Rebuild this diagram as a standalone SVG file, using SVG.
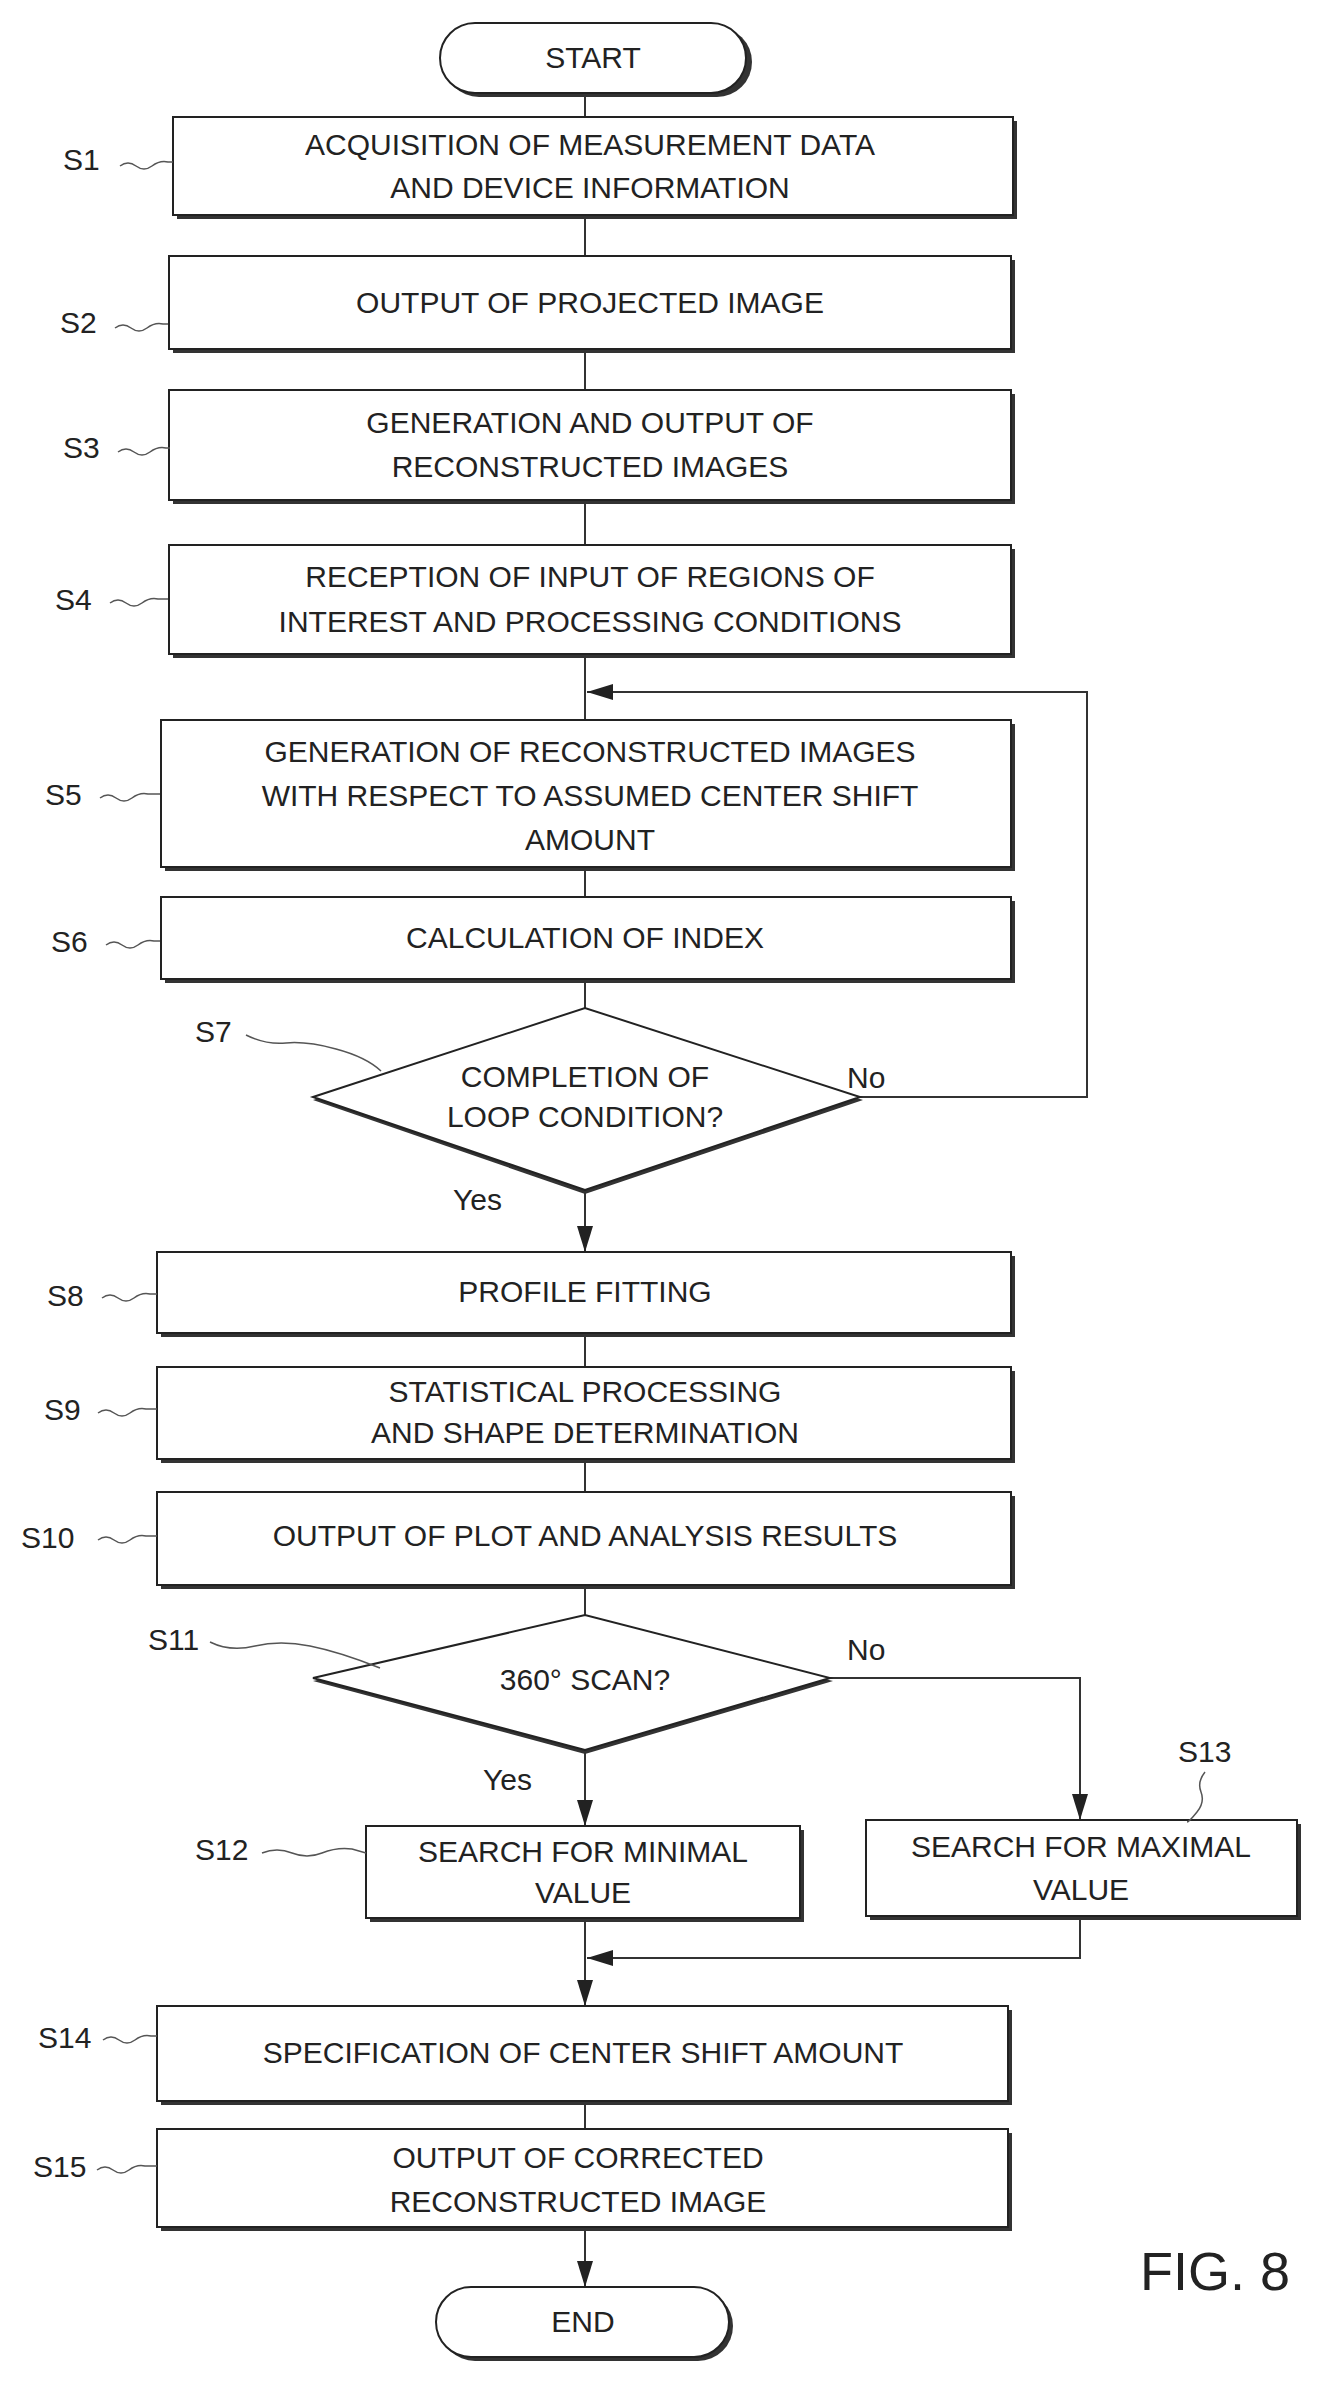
<svg xmlns="http://www.w3.org/2000/svg" width="1320" height="2382" viewBox="0 0 1320 2382">
<style>
.b{fill:#fff;stroke:#222;stroke-width:2}
.sh{fill:#333}
.t{font-family:"Liberation Sans",Arial,sans-serif;font-size:30px;fill:#222;text-anchor:middle}
.l{font-family:"Liberation Sans",Arial,sans-serif;font-size:30px;fill:#222;text-anchor:start}
.c{fill:none;stroke:#333;stroke-width:2}
.q{fill:none;stroke:#555;stroke-width:1.5}
</style>
<defs>
<marker id="a" markerWidth="26" markerHeight="16" refX="26" refY="8" orient="auto" markerUnits="userSpaceOnUse" viewBox="0 0 26 16">
<path d="M0,0 L26,8 L0,16 Z" fill="#222"/>
</marker>
</defs>
<g id="connectors">
<path class="c" d="M585,95 V117 M585,215 V256 M585,349 V390 M585,500 V545 M585,654 V720 M585,867 V897 M585,979 V1008"/>
<path class="c" d="M860,1097 H1087 V692 H587" marker-end="url(#a)"/>
<path class="c" d="M585,1190 V1252" marker-end="url(#a)"/>
<path class="c" d="M585,1333 V1367 M585,1459 V1492 M585,1585 V1615"/>
<path class="c" d="M585,1750 V1826" marker-end="url(#a)"/>
<path class="c" d="M830,1678 H1080 V1820" marker-end="url(#a)"/>
<path class="c" d="M585,1918 V2006" marker-end="url(#a)"/>
<path class="c" d="M1080,1916 V1958 H587" marker-end="url(#a)"/>
<path class="c" d="M585,2101 V2129"/>
<path class="c" d="M585,2227 V2287" marker-end="url(#a)"/>
</g>
<g id="start"><rect class="sh" x="444" y="27" width="308" height="70" rx="35"/><rect class="b" x="440" y="23" width="306" height="70" rx="35"/><text class="t" x="593" y="68">START</text></g>
<g id="s1"><rect class="sh" x="177" y="121" width="840" height="98"/><rect class="b" x="173" y="117" width="840" height="98"/><text class="t" x="590" y="155">ACQUISITION OF MEASUREMENT  DATA</text><text class="t" x="590" y="198">AND DEVICE INFORMATION</text><text class="l" x="63" y="170">S1</text><path class="q" d="M120,166 q8,-6 16,0 t16,0 t16,-4 l5,0"/></g>
<g id="s2"><rect class="sh" x="173" y="260" width="842" height="93"/><rect class="b" x="169" y="256" width="842" height="93"/><text class="t" x="590" y="313">OUTPUT OF PROJECTED IMAGE</text><text class="l" x="60" y="333">S2</text><path class="q" d="M115,328 q8,-6 16,0 t16,0 t16,-4 l5,0"/></g>
<g id="s3"><rect class="sh" x="173" y="394" width="842" height="110"/><rect class="b" x="169" y="390" width="842" height="110"/><text class="t" x="590" y="433">GENERATION AND OUTPUT OF</text><text class="t" x="590" y="477">RECONSTRUCTED IMAGES</text><text class="l" x="63" y="458">S3</text><path class="q" d="M118,452 q8,-6 16,0 t16,0 t16,-4 l4,0"/></g>
<g id="s4"><rect class="sh" x="173" y="549" width="842" height="109"/><rect class="b" x="169" y="545" width="842" height="109"/><text class="t" x="590" y="587">RECEPTION OF INPUT OF REGIONS OF</text><text class="t" x="590" y="632">INTEREST AND PROCESSING CONDITIONS</text><text class="l" x="55" y="610">S4</text><path class="q" d="M110,603 q8,-6 16,0 t16,0 t16,-4 l10,0"/></g>
<g id="s5"><rect class="sh" x="165" y="724" width="850" height="147"/><rect class="b" x="161" y="720" width="850" height="147"/><text class="t" x="590" y="762">GENERATION OF RECONSTRUCTED IMAGES</text><text class="t" x="590" y="806">WITH RESPECT TO ASSUMED CENTER SHIFT</text><text class="t" x="590" y="850">AMOUNT</text><text class="l" x="45" y="805">S5</text><path class="q" d="M100,798 q8,-6 16,0 t16,0 t16,-4 l12,0"/></g>
<g id="s6"><rect class="sh" x="165" y="901" width="850" height="82"/><rect class="b" x="161" y="897" width="850" height="82"/><text class="t" x="585" y="948">CALCULATION OF INDEX</text><text class="l" x="51" y="952">S6</text><path class="q" d="M106,945 q8,-6 16,0 t16,0 t16,-4 l6,0"/></g>
<g id="s7"><path d="M313,1100 L585,1012 L863,1100 L585,1194 Z" fill="#333"/><path class="b" d="M313,1097 L585,1008 L860,1097 L585,1190 Z"/><text class="t" x="585" y="1087">COMPLETION OF</text><text class="t" x="585" y="1127">LOOP CONDITION?</text><text class="l" x="195" y="1042">S7</text><path class="q" d="M246,1035 q20,10 40,8 t50,6 t45,22"/><text class="l" x="847" y="1088">No</text><text class="l" x="453" y="1210">Yes</text></g>
<g id="s8"><rect class="sh" x="161" y="1256" width="854" height="81"/><rect class="b" x="157" y="1252" width="854" height="81"/><text class="t" x="585" y="1302">PROFILE FITTING</text><text class="l" x="47" y="1306">S8</text><path class="q" d="M102,1298 q8,-6 16,0 t16,0 t16,-4 l7,0"/></g>
<g id="s9"><rect class="sh" x="161" y="1371" width="854" height="92"/><rect class="b" x="157" y="1367" width="854" height="92"/><text class="t" x="585" y="1402">STATISTICAL PROCESSING</text><text class="t" x="585" y="1443">AND SHAPE DETERMINATION</text><text class="l" x="44" y="1420">S9</text><path class="q" d="M98,1413 q8,-6 16,0 t16,0 t16,-4 l11,0"/></g>
<g id="s10"><rect class="sh" x="161" y="1496" width="854" height="93"/><rect class="b" x="157" y="1492" width="854" height="93"/><text class="t" x="585" y="1546">OUTPUT OF PLOT AND ANALYSIS RESULTS</text><text class="l" x="21" y="1548">S10</text><path class="q" d="M98,1540 q8,-6 16,0 t16,0 t16,-4 l11,0"/></g>
<g id="s11"><path d="M313,1681 L585,1619 L833,1681 L585,1754 Z" fill="#333"/><path class="b" d="M313,1678 L585,1615 L830,1678 L585,1750 Z"/><text class="t" x="585" y="1690">360°  SCAN?</text><text class="l" x="148" y="1650">S11</text><path class="q" d="M210,1642 q20,10 45,4 t55,0 t70,22"/><text class="l" x="847" y="1660">No</text><text class="l" x="483" y="1790">Yes</text></g>
<g id="s12"><rect class="sh" x="370" y="1830" width="434" height="92"/><rect class="b" x="366" y="1826" width="434" height="92"/><text class="t" x="583" y="1862">SEARCH FOR MINIMAL</text><text class="t" x="583" y="1903">VALUE</text><text class="l" x="195" y="1860">S12</text><path class="q" d="M262,1853 q15,-6 30,0 t30,0 t30,-4 l14,4"/></g>
<g id="s13"><rect class="sh" x="870" y="1824" width="431" height="96"/><rect class="b" x="866" y="1820" width="431" height="96"/><text class="t" x="1081" y="1857">SEARCH FOR MAXIMAL</text><text class="t" x="1081" y="1900">VALUE</text><text class="l" x="1178" y="1762">S13</text><path class="q" d="M1205,1772 q-8,10 -4,20 t-4,20 t-10,10"/></g>
<g id="s14"><rect class="sh" x="161" y="2010" width="851" height="95"/><rect class="b" x="157" y="2006" width="851" height="95"/><text class="t" x="583" y="2063">SPECIFICATION OF CENTER SHIFT AMOUNT</text><text class="l" x="38" y="2048">S14</text><path class="q" d="M103,2040 q8,-6 16,0 t16,0 t16,-4 l6,0"/></g>
<g id="s15"><rect class="sh" x="161" y="2133" width="851" height="98"/><rect class="b" x="157" y="2129" width="851" height="98"/><text class="t" x="578" y="2168">OUTPUT OF CORRECTED</text><text class="t" x="578" y="2212">RECONSTRUCTED IMAGE</text><text class="l" x="33" y="2177">S15</text><path class="q" d="M97,2170 q8,-6 16,0 t16,0 t16,-4 l12,0"/></g>
<g id="end"><rect class="sh" x="440" y="2291" width="293" height="70" rx="35"/><rect class="b" x="436" y="2287" width="293" height="70" rx="35"/><text class="t" x="583" y="2332">END</text></g>
<text x="1140" y="2290" font-family="Liberation Sans,Arial,sans-serif" font-size="54" fill="#222">FIG. 8</text>
</svg>
